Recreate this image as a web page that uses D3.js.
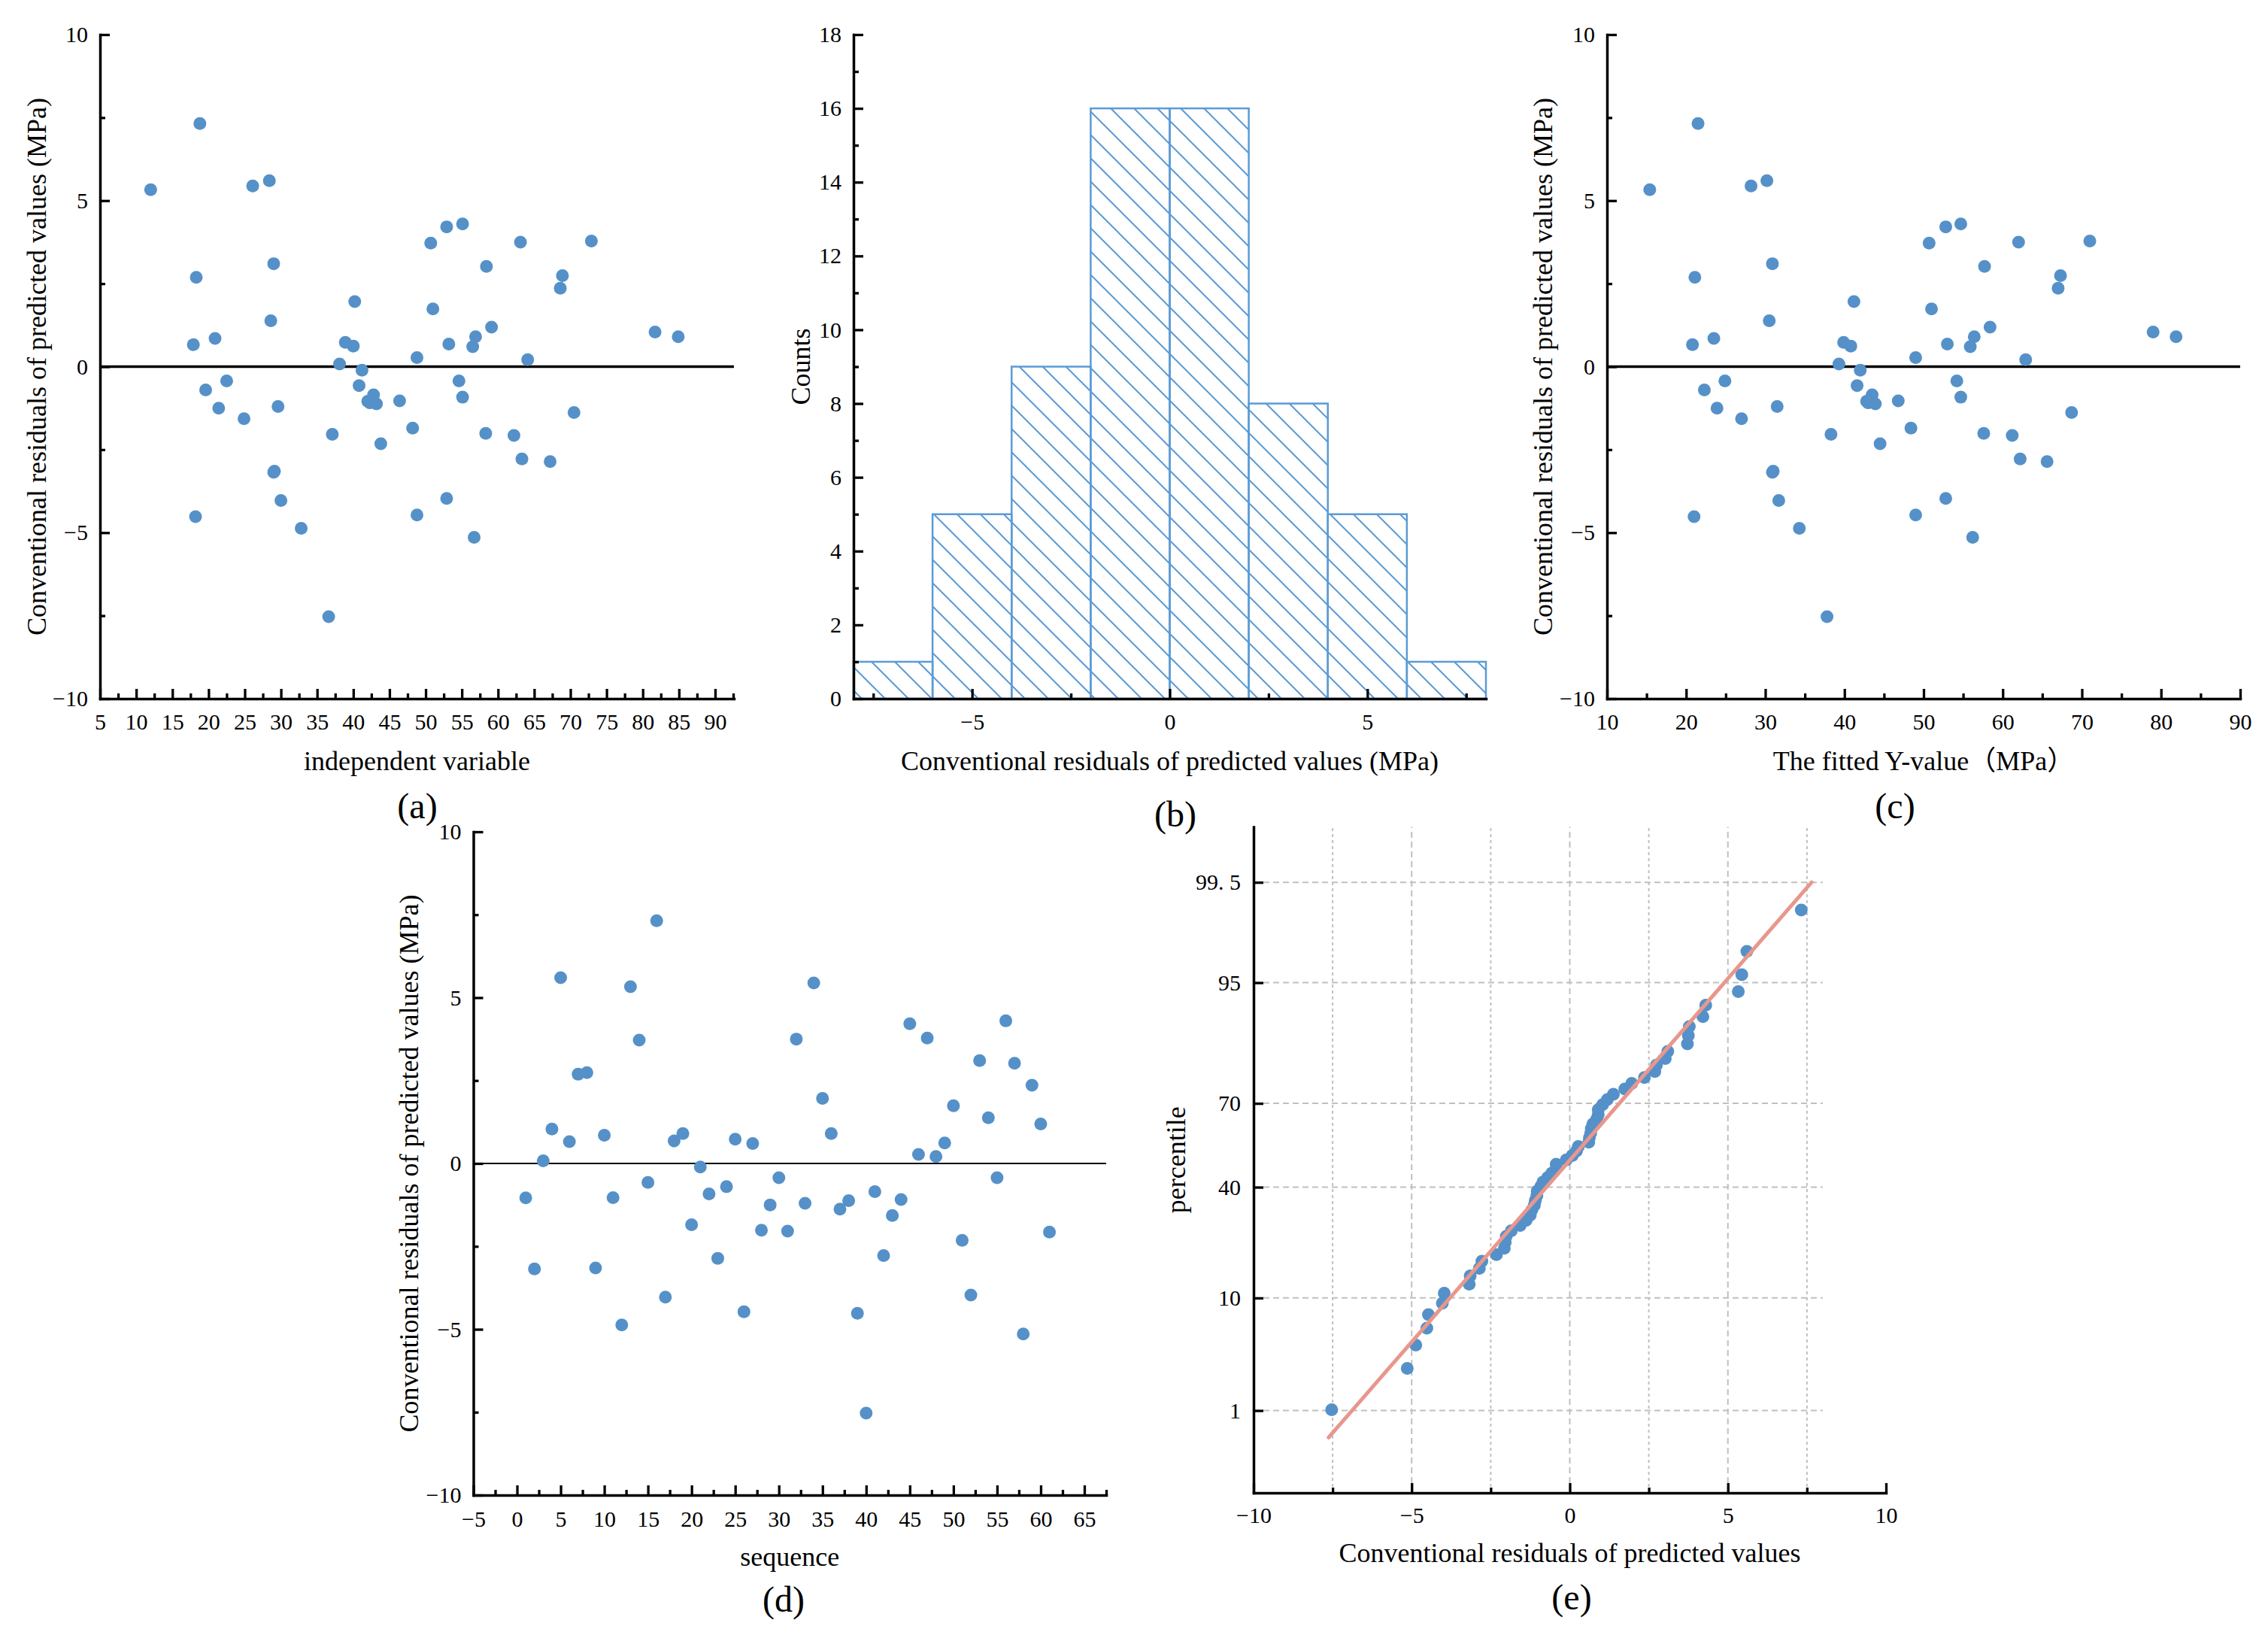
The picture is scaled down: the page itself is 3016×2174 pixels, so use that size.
<!DOCTYPE html>
<html>
<head>
<meta charset="utf-8">
<script src="https://cdn.jsdelivr.net/npm/d3@7"></script>
<style>
  body { margin: 0; background: #fff; }
  text { font-family: 'Times New Roman', 'Liberation Serif', 'DejaVu Serif', 'Noto Sans CJK SC', serif; fill: #000; }
</style>
</head>
<body>
<svg id="chart"></svg>
<script>
// residuals in sequence order (MPa)
const residuals = [-1.04, -3.18, 0.08, 1.04, 5.60, 0.66, 2.69, 2.74, -3.15, 0.85,
  -1.03, -4.87, 5.33, 3.72, -0.57, 7.32, -4.03, 0.68, 0.90, -1.85,
  -0.11, -0.92, -2.86, -0.70, 0.73, -4.47, 0.60, -2.01, -1.25, -0.43,
  -2.04, 3.75, -1.20, 5.44, 1.96, 0.90, -1.38, -1.12, -4.52, -7.53,
  -0.85, -2.78, -1.57, -1.09, 4.21, 0.27, 3.78, 0.21, 0.62, 1.74,
  -2.32, -3.97, 3.10, 1.38, -0.43, 4.30, 3.02, -5.14, 2.36, 1.19, -2.07]

// independent variable for each observation
const independent = [42.0, 29.0, 38.1, 81.7, 28.4, 17.9, 18.3, 68.9, 29.1, 20.9,
  46.4, 32.8, 12.0, 50.7, 40.8, 18.8, 30.0, 53.2, 56.9, 48.2,
  41.2, 55.1, 67.2, 19.6, 38.9, 48.8, 56.5, 58.3, 21.4, 22.5,
  37.1, 63.1, 29.6, 26.1, 40.2, 84.9, 70.5, 43.2, 18.2, 36.6,
  42.8, 63.3, 24.9, 42.3, 52.9, 48.8, 72.9, 64.1, 40.0, 51.0,
  43.8, 52.9, 29.0, 28.6, 54.6, 55.1, 58.4, 56.7, 68.6, 59.1, 62.2]

// fitted Y-value for each observation (MPa)
const fitted = [42.8, 30.9, 39.3, 79.0, 30.2, 20.8, 21.1, 67.3, 31.0, 23.5,
  46.8, 34.3, 15.4, 50.7, 41.6, 21.5, 31.7, 53.0, 56.4, 48.4,
  42.0, 54.7, 65.6, 22.3, 39.9, 49.0, 55.9, 57.6, 23.9, 24.9,
  38.3, 62.0, 31.5, 28.2, 41.2, 81.9, 68.7, 43.9, 21.0, 37.8,
  43.5, 62.2, 27.0, 43.0, 52.8, 49.0, 71.0, 62.9, 40.8, 51.0,
  44.5, 52.8, 30.9, 30.5, 54.2, 54.7, 57.7, 56.2, 67.0, 58.4, 61.2]

const sequence = d3.range(1, residuals.length + 1)
const histThresholds = [-6, -4, -2, 0, 2, 4, 6]
const percentTicks = [1, 10, 40, 70, 95, 99.5]

const W = 3016, H = 2174
const blue = '#5591c8', barBlue = '#5b9bd5', pink = '#e8978d', grid = '#c0c0c0'

const svg = d3.select('#chart').attr('width', W).attr('height', H)
svg.append('rect').attr('width', W).attr('height', H).attr('fill', '#fff')

// hatch for histogram bars
const s = 31
svg.append('defs').append('pattern')
  .attr('id', 'hatch')
  .attr('patternUnits', 'userSpaceOnUse')
  .attr('width', s).attr('height', s)
  .append('path')
    .attr('d', `M${-s / 4},${3 * s / 4} l${s / 2},${s / 2} M0,0 l${s},${s} M${3 * s / 4},${-s / 4} l${s / 2},${s / 2}`)
    .attr('stroke', barBlue)
    .attr('stroke-width', 2)

// inverse normal cdf (Acklam)
function probit (p) {
  const a = [-39.69683028665376, 220.9460984245205, -275.9285104469687, 138.3577518672690, -30.66479806614716, 2.506628277459239]
  const b = [-54.47609879822406, 161.5858368580409, -155.6989798598866, 66.80131188771972, -13.28068155288572]
  const c = [-0.007784894002430293, -0.3223964580411365, -2.400758277161838, -2.549732539343734, 4.374664141464968, 2.938163982698783]
  const d = [0.007784695709041462, 0.3224671290700398, 2.445134137142996, 3.754408661907416]
  const pl = 0.02425
  let q, r
  if (p < pl) {
    q = Math.sqrt(-2 * Math.log(p))
    return (((((c[0] * q + c[1]) * q + c[2]) * q + c[3]) * q + c[4]) * q + c[5]) / ((((d[0] * q + d[1]) * q + d[2]) * q + d[3]) * q + 1)
  }
  if (p > 1 - pl) {
    q = Math.sqrt(-2 * Math.log(1 - p))
    return -(((((c[0] * q + c[1]) * q + c[2]) * q + c[3]) * q + c[4]) * q + c[5]) / ((((d[0] * q + d[1]) * q + d[2]) * q + d[3]) * q + 1)
  }
  q = p - 0.5
  r = q * q
  return (((((a[0] * r + a[1]) * r + a[2]) * r + a[3]) * r + a[4]) * r + a[5]) * q / (((((b[0] * r + b[1]) * r + b[2]) * r + b[3]) * r + b[4]) * r + 1)
}

const fmt = d3.format('d')

function axes (g, x, y, o) {
  const bottom = y.range()[0]
  const left = x.range()[0]
  g.append('g').attr('transform', `translate(0,${bottom})`)
    .call(d3.axisBottom(x).tickValues(o.xMajor).tickFormat(o.xFmt || fmt)
      .tickSizeInner(-13).tickSizeOuter(0).tickPadding(o.xPad || 20))
  if (o.xMinor) {
    g.append('g').attr('transform', `translate(0,${bottom})`)
      .call(d3.axisBottom(x).tickValues(o.xMinor).tickFormat('').tickSizeInner(-7).tickSizeOuter(0))
      .call(a => a.select('.domain').remove())
  }
  g.append('g').attr('transform', `translate(${left},0)`)
    .call(d3.axisLeft(y).tickValues(o.yMajor).tickFormat(o.yFmt || fmt)
      .tickSizeInner(-13).tickSizeOuter(0).tickPadding(o.yPad || 16))
  if (o.yMinor) {
    g.append('g').attr('transform', `translate(${left},0)`)
      .call(d3.axisLeft(y).tickValues(o.yMinor).tickFormat('').tickSizeInner(-7).tickSizeOuter(0))
      .call(a => a.select('.domain').remove())
  }
  g.selectAll('.tick line').attr('stroke', '#000').attr('stroke-width', 3.3)
  g.selectAll('.domain').attr('stroke', '#000').attr('stroke-width', 3.5).attr('stroke-linecap', 'square')
  g.selectAll('.tick text').attr('font-size', 30)
  g.selectAll('g').attr('font-family', null).attr('font-size', null)
}

function titles (g, x, y, xt, yt, yx, xty) {
  const [l, r] = x.range(), [b, t] = y.range()
  g.append('text').attr('x', (l + r) / 2).attr('y', xty).attr('dy', '0.35em')
    .attr('text-anchor', 'middle').attr('font-size', 36).text(xt)
  g.append('text').attr('transform', `translate(${yx},${(b + t) / 2}) rotate(-90)`)
    .attr('dy', '0.35em').attr('text-anchor', 'middle').attr('font-size', 36).text(yt)
}

function tag (x, y, t) {
  svg.append('text').attr('x', x).attr('y', y).attr('dy', '0.35em')
    .attr('text-anchor', 'middle').attr('font-size', 48).text(t)
}

const resLabel = 'Conventional residuals of predicted values (MPa)'
const tenTicks = [-10, -5, 0, 5, 10]
const tenMinor = [-7.5, -2.5, 2.5, 7.5]

function scatter (g, x, y, xs, zeroW) {
  g.append('line')
    .attr('x1', x.range()[0]).attr('x2', x.range()[1])
    .attr('y1', y(0)).attr('y2', y(0))
    .attr('stroke', '#000').attr('stroke-width', zeroW)
  g.selectAll('.pt').data(residuals).enter().append('circle')
    .attr('class', 'pt')
    .attr('cx', (d, i) => x(xs[i]))
    .attr('cy', d => y(d))
    .attr('r', 8.5)
    .attr('fill', blue)
}

// (a) residuals vs independent variable
{
  const g = svg.append('g')
  const x = d3.scaleLinear().domain([5, 92.6]).range([133, 976])
  const y = d3.scaleLinear().domain([-10, 10]).range([929, 46])
  scatter(g, x, y, independent, 3.5)
  axes(g, x, y, { xMajor: d3.range(5, 91, 5), xMinor: d3.range(7.5, 93, 5), yMajor: tenTicks, yMinor: tenMinor })
  titles(g, x, y, 'independent variable', resLabel, 48, 1011)
  tag(555, 1071, '(a)')
}

// (b) histogram of residuals
{
  const g = svg.append('g')
  const x = d3.scaleLinear().domain([-8, 8]).range([1135, 1976])
  const y = d3.scaleLinear().domain([0, 18]).range([929, 46])
  const bins = d3.bin().domain(x.domain()).thresholds(histThresholds)(residuals)
  g.selectAll('.bar').data(bins).enter().append('rect')
    .attr('class', 'bar')
    .attr('x', d => x(d.x0))
    .attr('y', d => y(d.length))
    .attr('width', d => x(d.x1) - x(d.x0))
    .attr('height', d => y(0) - y(d.length))
    .attr('fill', 'url(#hatch)')
    .attr('stroke', barBlue)
    .attr('stroke-width', 2.5)
  axes(g, x, y, { xMajor: [-5, 0, 5], xMinor: tenMinor, yMajor: d3.range(0, 19, 2), yMinor: d3.range(1, 18, 2) })
  titles(g, x, y, resLabel, 'Counts', 1064, 1011)
  tag(1563, 1082, '(b)')
}

// (c) residuals vs fitted value
{
  const g = svg.append('g')
  const x = d3.scaleLinear().domain([10, 90]).range([2137, 2979])
  const y = d3.scaleLinear().domain([-10, 10]).range([929, 46])
  scatter(g, x, y, fitted, 3.5)
  axes(g, x, y, { xMajor: d3.range(10, 91, 10), xMinor: d3.range(15, 90, 10), yMajor: tenTicks, yMinor: tenMinor })
  titles(g, x, y, 'The fitted Y-value（MPa）', resLabel, 2051, 1011)
  tag(2520, 1071, '(c)')
}

// (d) residuals vs sequence
{
  const g = svg.append('g')
  const x = d3.scaleLinear().domain([-5, 67.5]).range([629.5, 1471])
  const y = d3.scaleLinear().domain([-10, 10]).range([1988, 1106])
  scatter(g, x, y, sequence, 2.2)
  axes(g, x, y, { xMajor: d3.range(-5, 66, 5), xMinor: d3.range(-2.5, 68, 5), yMajor: tenTicks, yMinor: tenMinor, xPad: 21 })
  titles(g, x, y, 'sequence', resLabel, 543, 2069)
  tag(1042, 2126, '(d)')
}

// (e) normal probability plot
{
  const g = svg.append('g')
  const x = d3.scaleLinear().domain([-10, 10]).range([1667, 2508])
  const y = d3.scaleLinear().domain([probit(0.001), probit(0.999)]).range([1985, 1099.5])
  const n = residuals.length
  const sorted = residuals.slice().sort(d3.ascending)
  const pts = sorted.map((r, i) => ({ r, z: probit((i + 1 - 0.375) / (n + 0.25)) }))

  // grid
  d3.range(-7.5, 7.6, 2.5).forEach(v => {
    g.append('line').attr('x1', x(v)).attr('x2', x(v)).attr('y1', y.range()[0]).attr('y2', y.range()[1])
      .attr('stroke', grid).attr('stroke-width', 2)
      .attr('stroke-dasharray', v % 5 === 0 ? '8,5' : '4,4')
  })
  percentTicks.forEach(p => {
    g.append('line').attr('x1', x.range()[0]).attr('x2', x(8)).attr('y1', y(probit(p / 100))).attr('y2', y(probit(p / 100)))
      .attr('stroke', grid).attr('stroke-width', 2).attr('stroke-dasharray', '8,5')
  })

  g.selectAll('.pt').data(pts).enter().append('circle')
    .attr('class', 'pt')
    .attr('cx', d => x(d.r))
    .attr('cy', d => y(d.z))
    .attr('r', 8.5)
    .attr('fill', blue)

  const m = d3.mean(residuals), sd = d3.deviation(residuals), zq = probit(0.995)
  const line = d3.line().x(d => x(m + d * sd)).y(d => y(d))
  g.append('path')
    .attr('d', line([-zq, zq]))
    .attr('stroke', pink)
    .attr('stroke-width', 5)
    .attr('stroke-linecap', 'round')
    .attr('fill', 'none')

  axes(g, x, y, {
    xMajor: tenTicks, xMinor: tenMinor,
    yMajor: percentTicks.map(p => probit(p / 100)),
    yFmt: (d, i) => percentTicks[i] === 99.5 ? '99. 5' : String(percentTicks[i]),
    xPad: 19, yPad: 17
  })
  titles(g, x, y, 'Conventional residuals of predicted values', 'percentile', 1563, 2064)
  tag(2090, 2123, '(e)')
}
</script>
</body>
</html>
